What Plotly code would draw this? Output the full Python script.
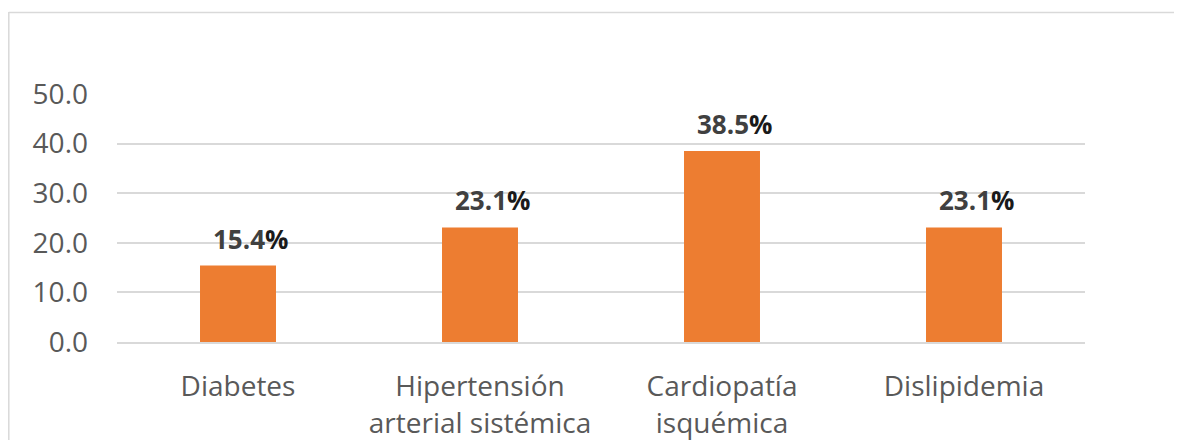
import plotly.graph_objects as go

categories = ["Diabetes", "Hipertensión<br>arterial sistémica", "Cardiopatía<br>isquémica", "Dislipidemia"]
values = [15.4, 23.1, 38.5, 23.1]
y_ticks = [0, 10, 20, 30, 40, 50]
y_ticktext = [f"{t:.1f}" for t in y_ticks]

# page has an 8px body margin; figure coordinates = page coordinates - 8
OFF = 8
W, H = 1182 - OFF, 440 - OFF
L = 117 - OFF
T = 94 - OFF
R = W - (1085 - OFF)
B = H - (342 - OFF)
pw, ph = W - L - R, H - T - B

fig = go.Figure()
fig.add_trace(go.Bar(
    x=categories, y=values,
    marker=dict(color="#ED7D31", line=dict(width=0)),
    width=0.314,
    hoverinfo="skip",
))

for c, v in zip(categories, values):
    fig.add_annotation(
        x=c, y=v, xref="x", yref="y",
        text=f"<b><span style='color:#404040'>{v:.1f}</span>%</b>",
        showarrow=False, yanchor="middle", xanchor="center",
        yshift=27, xshift=12,
        font=dict(family="Open Sans", size=26, color="#1a1a1a"),
    )

def px_x(p):
    return (p - OFF - L) / pw

def px_y(p):
    return (H - B - (p - OFF)) / ph

border = dict(color="#D9D9D9", width=1.5)
fig.add_shape(type="line", xref="paper", yref="paper",
              x0=px_x(8.8), x1=px_x(1200), y0=px_y(12.5), y1=px_y(12.5), line=border)
fig.add_shape(type="line", xref="paper", yref="paper",
              x0=px_x(8.8), x1=px_x(8.8), y0=px_y(12), y1=px_y(460), line=border)

fig.update_layout(
    width=W, height=H, autosize=False,
    margin=dict(l=L, r=R, t=T, b=B, pad=0, autoexpand=False),
    paper_bgcolor="white", plot_bgcolor="white",
    showlegend=False,
    font=dict(family="Open Sans", size=28, color="#595959"),
    xaxis=dict(
        showgrid=False, showline=True, linecolor="#D9D9D9", linewidth=1.5,
        ticks="", tickfont=dict(size=28, color="#595959"),
        ticklabelstandoff=19, automargin=False,
    ),
    yaxis=dict(
        range=[0, 50], tickvals=y_ticks, ticktext=y_ticktext,
        showgrid=True, gridcolor="#D9D9D9", gridwidth=1.5,
        zeroline=False, showline=False, ticks="",
        tickfont=dict(size=28, color="#595959"),
        ticklabelstandoff=28, automargin=False,
    ),
)

fig.write_html("out.html")
